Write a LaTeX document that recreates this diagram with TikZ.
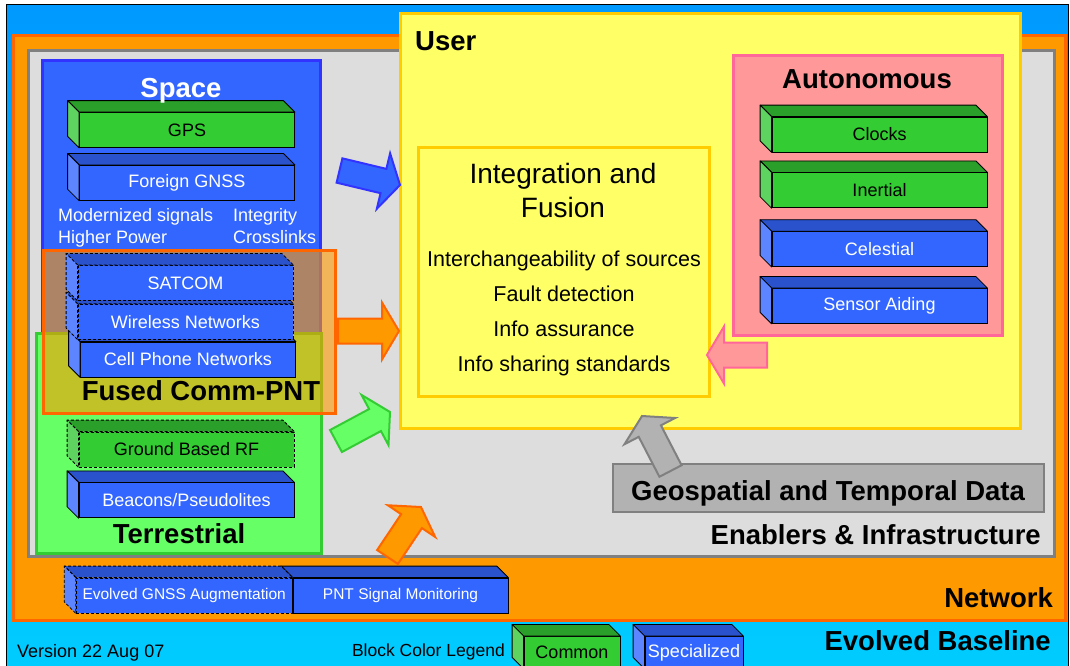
\documentclass[tikz,border=0pt]{standalone}
\usepackage{fontspec}
\setmainfont{Liberation Sans}
\usetikzlibrary{positioning, calc, fit}

\definecolor{skytop}{HTML}{0099FF}
\definecolor{skybottom}{HTML}{00CCFF}
\definecolor{netfill}{HTML}{FF9900}
\definecolor{netline}{HTML}{FF6600}
\definecolor{enabfill}{HTML}{DDDDDD}
\definecolor{enabline}{HTML}{808080}
\definecolor{userfill}{HTML}{FFFF66}
\definecolor{userline}{HTML}{FFCC00}
\definecolor{autofill}{HTML}{FF9999}
\definecolor{autoline}{HTML}{FF6699}
\definecolor{spacefill}{HTML}{3366FF}
\definecolor{spaceline}{HTML}{3333FF}
\definecolor{terrfill}{HTML}{66FF66}
\definecolor{terrline}{HTML}{33CC33}
\definecolor{geofill}{HTML}{B2B2B2}
\definecolor{greenfront}{HTML}{33CC33}
\definecolor{greentop}{HTML}{2A9F2A}
\definecolor{greenside}{HTML}{5FD35F}
\definecolor{bluefront}{HTML}{3366FF}
\definecolor{bluetop}{HTML}{2952CC}
\definecolor{blueside}{HTML}{5C85FF}

% top and left faces of a block node
\newcommand{\blockfaces}[4][]{%
  \draw[face, #1, fill=#3] (#2.north west) -- ++(-11.5,-11.5) -- ($(#2.north east)+(-11.5,-11.5)$) -- (#2.north east) -- cycle;
  \draw[face, #1, fill=#4] (#2.north west) -- ++(-11.5,-11.5) -- ($(#2.south west)+(-11.5,-11.5)$) -- (#2.south west) -- cycle;
}
% wide block arrow from a tail coordinate to a tip coordinate
\newcommand{\fatarrow}[3]{%
  \coordinate (hb) at ($(#3)!17pt!(#2)$);
  \draw[fat, #1] ($(#2)!12.5pt!90:(#3)$) -- ($(hb)!12.5pt!90:(#3)$) -- ($(hb)!28.5pt!90:(#3)$) -- (#3)
    -- ($(hb)!28.5pt!-90:(#3)$) -- ($(hb)!12.5pt!-90:(#3)$) -- ($(#2)!12.5pt!-90:(#3)$) -- cycle;
}

\begin{document}
\begin{tikzpicture}[
  x=1pt, y=-1pt,
  font=\fontsize{18}{22}\selectfont,
  zone/.style={draw, line width=3pt, inner sep=0pt},
  block/.style={draw=black, line width=0.8pt, minimum width=215pt, minimum height=35pt, inner sep=0pt},
  gblock/.style={block, fill=greenfront, text=black},
  bblock/.style={block, fill=bluefront, text=white},
  dashblock/.style={dash pattern=on 3pt off 2pt},
  face/.style={draw=black, line width=0.8pt, line join=round},
  title/.style={font=\fontsize{27.5}{32}\selectfont\bfseries, inner sep=0pt, text height=20pt, text depth=0pt},
  plain/.style={inner sep=0pt},
  small/.style={font=\fontsize{15.5}{18}\selectfont},
  fat/.style={line width=2pt, line join=miter}
]
\useasboundingbox (0,0) rectangle (1070,665);
\clip (0,0) rectangle (1070,665);
\fill[white] (0,0) rectangle (1070,665);

% EVOLVED BASELINE
\node[draw=black, line width=1pt, inner sep=0pt, top color=skytop, bottom color=skybottom, fit={(6,4) (1068,668)}] (baseline) {};

% NETWORK / ENABLERS / USER
\node[zone, draw=netline, fill=netfill, fit={(13,35) (1065,620)}] (network) {};
\node[zone, draw=enabline, fill=enabfill, fit={(28,50) (1054,556)}] (enablers) {};
\node[zone, draw=userline, fill=userfill, fit={(400,13) (1020,428)}] (user) {};
\node[zone, draw=userline, fill=userfill, fit={(418,147) (709,396)}] (fusion) {};
\node[zone, draw=autoline, fill=autofill, fit={(733,55) (1002,335)}] (auto) {};

% SEGMENTS
\node[zone, draw=spaceline, fill=spacefill, fit={(42,60) (320,340)}] (space) {};
\node[zone, draw=terrline, fill=terrfill, fit={(36,333) (321,553)}] (terr) {};
\node[zone, draw=netline, fill=netfill, fill opacity=0.6, fit={(43,250) (335,413)}] (fused) {};

% SPACE BLOCKS
\node[gblock] (gps) at (187,130) {GPS};
\blockfaces{gps}{greentop}{greenside}
\node[bblock, below=17pt of gps] (gnss) {Foreign GNSS};
\blockfaces{gnss}{bluetop}{blueside}

% FUSED BLOCKS
\node[bblock] (cell) at (188,359.5) {Cell Phone Networks};
\blockfaces{cell}{bluetop}{blueside}
\node[bblock, dashblock, above=2pt of cell, xshift=-2.5pt] (wireless) {Wireless Networks};
\blockfaces[dashblock]{wireless}{bluetop}{blueside}
\node[bblock, dashblock, above=3pt of wireless] (satcom) {SATCOM};
\blockfaces[dashblock]{satcom}{bluetop}{blueside}

% TERRESTRIAL BLOCKS
\node[gblock, dashblock] (rf) at (186.5,449.5) {Ground Based RF};
\blockfaces[dashblock]{rf}{greentop}{greenside}
\node[bblock, below=15pt of rf] (beacons) {Beacons/Pseudolites};
\blockfaces{beacons}{bluetop}{blueside}

% NETWORK BLOCKS
\node[bblock, small] (monitor) at (400.5,595.5) {PNT Signal Monitoring};
\blockfaces{monitor}{bluetop}{blueside}
\node[bblock, small, dashblock, left=0pt of monitor, minimum width=216pt] (augment) {Evolved GNSS Augmentation};
\blockfaces[dashblock]{augment}{bluetop}{blueside}

% AUTONOMOUS BLOCKS
\node[gblock] (clocks) at (879.5,134.5) {Clocks};
\blockfaces{clocks}{greentop}{greenside}
\node[gblock, below=20pt of clocks] (inertial) {Inertial};
\blockfaces{inertial}{greentop}{greenside}
\node[bblock, below=23pt of inertial] (celestial) {Celestial};
\blockfaces{celestial}{bluetop}{blueside}
\node[bblock, below=21pt of celestial] (sensor) {Sensor Aiding};
\blockfaces{sensor}{bluetop}{blueside}

% LEGEND BLOCKS
\node[gblock, anchor=north, minimum width=96pt, minimum height=32pt] (common) at (572,636) {Common};
\blockfaces{common}{greentop}{greenside}
\node[bblock, anchor=north, minimum width=98pt, minimum height=32pt] (special) at (694,636) {Specialized};
\blockfaces{special}{bluetop}{blueside}

% GEOSPATIAL
\node[draw=enabline, line width=2pt, fill=geofill, inner sep=0pt, fit={(613,464) (1044,512)}] (geo) {};

% ARROWS
\coordinate (spacetail) at (339.5,170.5);  \coordinate (spacetip) at (400,185);
\coordinate (fusedtail) at (338,331);      \coordinate (fusedtip) at (399,331);
\coordinate (terrtail) at (336,441);       \coordinate (terrtip) at (390,412);
\coordinate (nettail) at (387.5,557);      \coordinate (nettip) at (421,507);
\coordinate (autotail) at (767,355);       \coordinate (autotip) at (707,355);
\coordinate (geotail) at (670.5,471);      \coordinate (geotip) at (642,416);
\fatarrow{fill=spacefill, draw=spaceline}{spacetail}{spacetip}
\fatarrow{fill=netfill, draw=netline}{fusedtail}{fusedtip}
\fatarrow{fill=terrfill, draw=terrline}{terrtail}{terrtip}
\fatarrow{fill=netfill, draw=netline}{nettail}{nettip}
\fatarrow{fill=autofill, draw=autoline}{autotail}{autotip}
\fatarrow{fill=geofill, draw=enabline}{geotail}{geotip}

% LABELS
\node[title, anchor=west] (userlbl) at (415,40) {User};
\node[title, text=white] (spacelbl) at (181,87) {Space};
\node[title] (autolbl) at (867,78) {Autonomous};
\node[title] (fusedlbl) at (201,390) {Fused Comm-PNT};
\node[title] (terrlbl) at (179,533) {Terrestrial};
\node[title] (geolbl) at (828,490) {Geospatial and Temporal Data};
\node[title, anchor=east] (enablbl) at (1041,534) {Enablers \& Infrastructure};
\node[title, anchor=east] (netlbl) at (1053,597) {Network};
\node[title, anchor=east] (baselbl) at (1051,640) {Evolved Baseline};

\node[plain, text=white, align=left, anchor=west] (spacenote1) at (58,228) {Modernized signals\\Higher Power};
\node[plain, text=white, align=left, anchor=west] (spacenote2) at (233,226) {Integrity\\Crosslinks};
\node[plain, align=center, font=\fontsize{28}{34}\selectfont] (fusiontitle) at (563,190) {Integration and\\Fusion};
\node[plain, align=center, font=\fontsize{21.5}{35}\selectfont] (fusionitems) at (564,313) {Interchangeability of sources\\Fault detection\\Info assurance\\Info sharing standards};

\node[plain, anchor=west] (version) at (17,653) {Version 22 Aug 07};
\node[plain, anchor=east, font=\fontsize{17.5}{21}\selectfont] (legend) at (505,652) {Block Color Legend};
\end{tikzpicture}
\end{document}
